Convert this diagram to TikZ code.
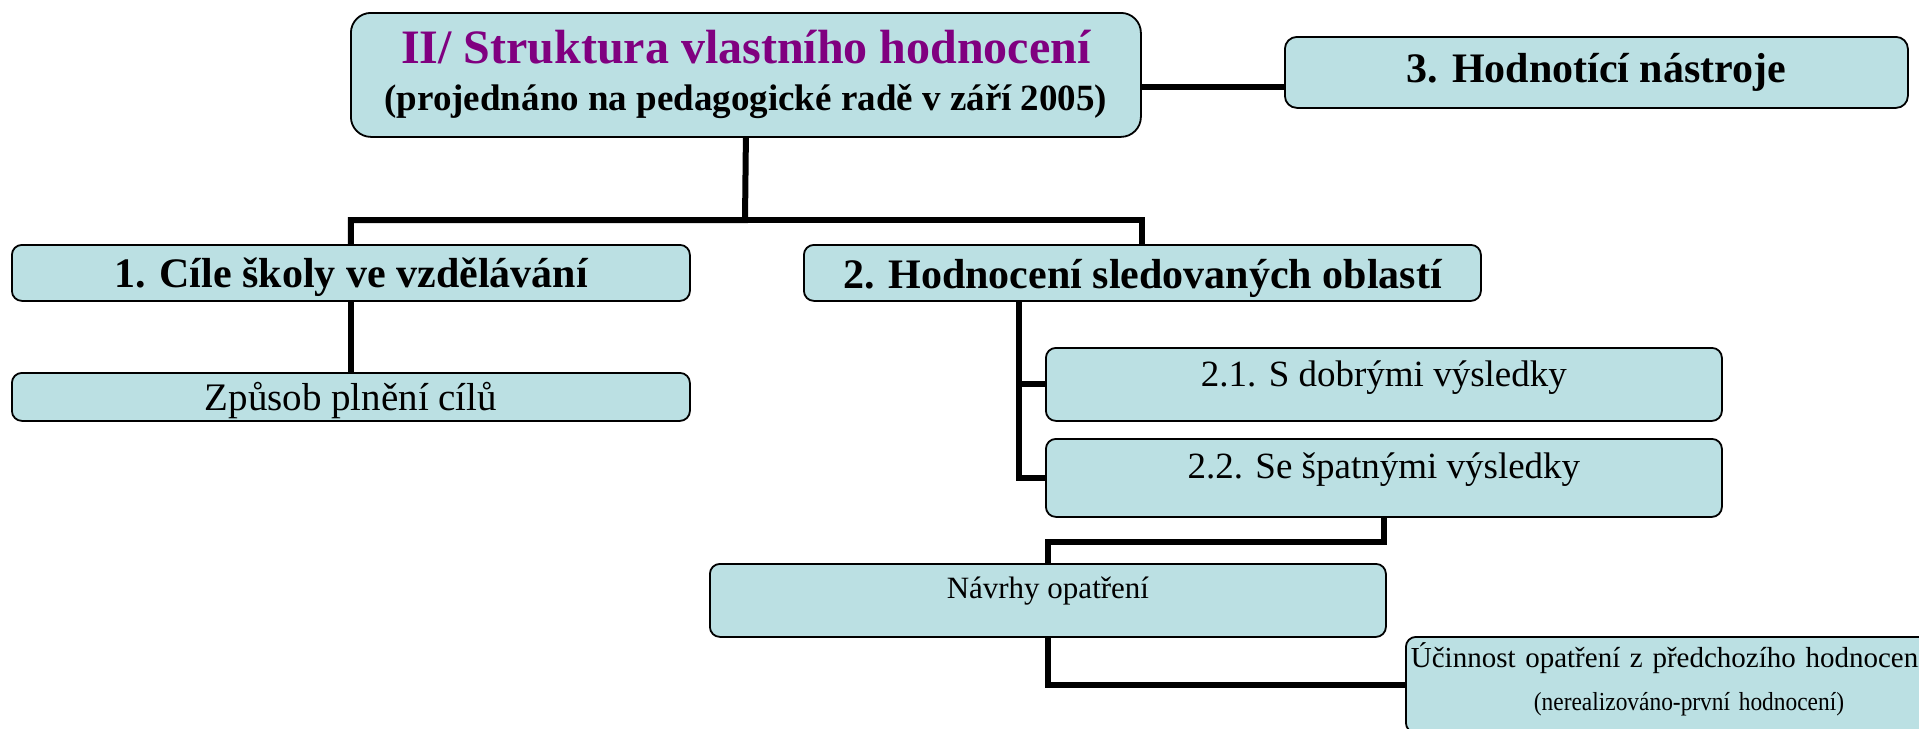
\documentclass[tikz,border=0pt]{standalone}
\usepackage{fontspec}
\setmainfont{Liberation Serif}
\usepackage{graphicx}
\definecolor{boxfill}{RGB}{187,224,227}
\definecolor{titlepurple}{RGB}{128,0,128}

\begin{document}
\begin{tikzpicture}[
        x=1pt, y=-1pt,
        box/.style={draw, line width=1.8pt, fill=boxfill, rounded corners=10pt,
            anchor=north west, inner xsep=0pt, inner ysep=0pt, minimum width=676pt},
        big/.style={font=\fontsize{42}{48}\selectfont\bfseries},
        plain/.style={font=\fontsize{37}{44}\selectfont},
        link/.style={line width=6pt}
    ]
    \useasboundingbox (0,0) rectangle (1919,728);
    \clip (0,0) rectangle (1919,728);

    \node[box, rounded corners=20pt, minimum width=790pt, align=center,
          font=\fontsize{37}{47}\selectfont\bfseries,
          text height=98pt, text depth=26pt] (top) at (350,12)
        {{\fontsize{48}{52}\selectfont\color{titlepurple}II/ Struktura vlastního hodnocení}\\
         (projednáno na pedagogické radě v září 2005)};
    \node[box, rounded corners=12pt, minimum width=623pt, big,
          text height=46pt, text depth=25pt] (tools) at (1284,36) {3. Hodnotící nástroje};

    \node[box, minimum width=678pt, big, text height=43pt, text depth=13pt] (goals) at (11,244)
        {1. Cíle školy ve vzdělávání};
    \node[box, minimum width=677pt, big, text height=44pt, text depth=12pt] (areas) at (803,244)
        {2. Hodnocení sledovaných oblastí};
    \node[box, minimum width=678pt, font=\fontsize{39}{44}\selectfont,
          text height=38pt, text depth=10pt] (way) at (11,372) {Způsob plnění cílů};

    \node[box, plain, text height=39pt, text depth=34pt] (good) at (1045,347) {2.1. S dobrými výsledky};
    \node[box, plain, text height=40pt, text depth=38pt] (bad) at (1045,438) {2.2. Se špatnými výsledky};
    \node[box, font=\fontsize{31}{36}\selectfont, text height=35pt, text depth=38pt] (measures) at (709,563)
        {Návrhy opatření};
    \node[box, font=\fontsize{29}{43}\selectfont, text width=666pt, inner xsep=5pt, align=left,
          text height=31pt, text depth=65pt] (effect) at (1405,636)
        {Účinnost opatření z předchozího hodnocení\\
         \hspace*{123pt}\scalebox{0.9}[1]{\fontsize{26}{30}\selectfont(nerealizováno-první hodnocení)}};

    % connectors
    \coordinate (split) at (745,220);
    \coordinate (fork) at (1019,300);
    \draw[link] (top.south) -- (split) -| (goals.north);
    \draw[link] (split) -| (areas.north);
    \draw[link] ([yshift=-12pt]top.east) -- ([yshift=-12pt]top.east -| tools.west);
    \draw[link] (goals.south) -- (way.north);
    \draw[link] (fork) |- (good.west);
    \draw[link] (fork) |- (bad.west);
    \draw[link] (bad.south) -- ++(0,24) -| (measures.north);
    \draw[link] (measures.south) |- (effect.west);
\end{tikzpicture}
\end{document}
